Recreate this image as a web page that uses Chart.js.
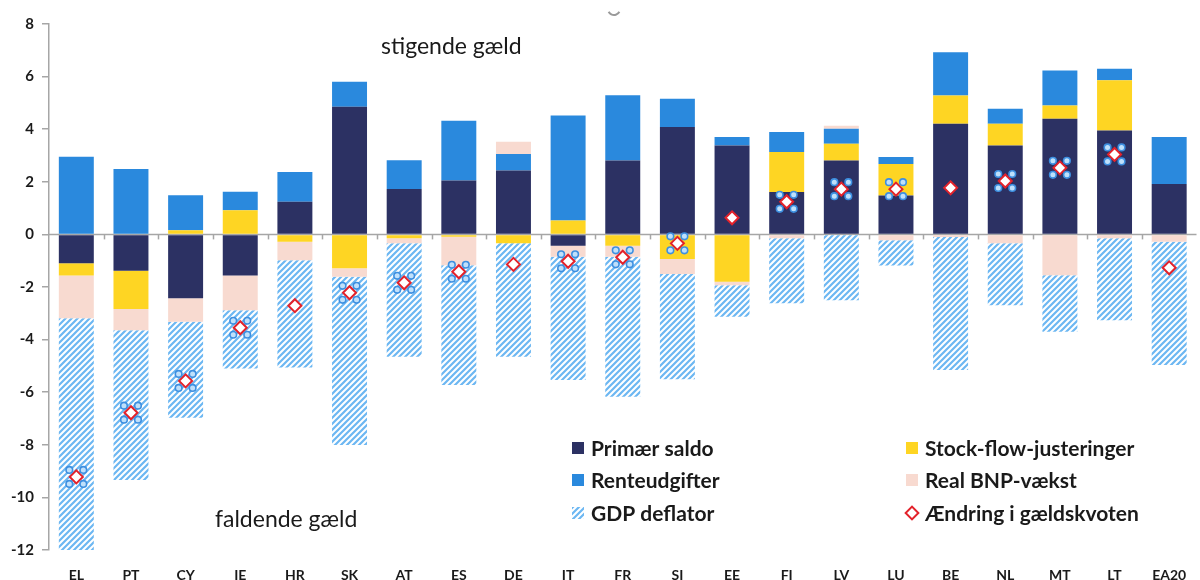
<!DOCTYPE html>
<html>
<head>
<meta charset="utf-8">
<script src="https://cdn.jsdelivr.net/npm/chart.js@4.4.1/dist/chart.umd.min.js"></script>
<style>
  html, body { margin: 0; padding: 0; background: #fff; overflow: hidden; }
  #wrap { position: relative; width: 1205px; height: 592px; }
</style>
</head>
<body>
<div id="wrap"><canvas id="debtChart"></canvas></div>
<script>
// countries, ordered by change in debt ratio contributions
const countries = ['EL', 'PT', 'CY', 'IE', 'HR', 'SK', 'AT', 'ES', 'DE', 'IT', 'FR', 'SI', 'EE', 'FI', 'LV', 'LU', 'BE', 'NL', 'MT', 'LT', 'EA20'];

// contributions, percentage points of GDP
const primaerSaldo   = [-1.10, -1.38, -2.43, -1.56, 1.24, 4.85, 1.73, 2.05, 2.43, -0.43, 2.81, 4.08, 3.38, 1.61, 2.81, 1.48, 4.21, 3.38, 4.40, 3.95, 1.92];
const stockFlow      = [-0.46, -1.46, 0.16, 0.92, -0.28, -1.29, -0.15, -0.09, -0.34, 0.53, -0.43, -0.94, -1.80, 1.52, 0.64, 1.20, 1.07, 0.83, 0.50, 1.91, 0.00];
const renteudgifter  = [2.95, 2.49, 1.33, 0.70, 1.13, 0.95, 1.09, 2.27, 0.63, 3.99, 2.48, 1.08, 0.32, 0.76, 0.57, 0.26, 1.65, 0.57, 1.33, 0.44, 1.78];
const realBnp        = [-1.63, -0.80, -0.89, -1.32, -0.70, -0.32, -0.19, -1.08, 0.46, -0.42, -0.42, -0.57, -0.13, -0.15, 0.11, -0.22, -0.10, -0.34, -1.55, -0.15, -0.28];
const gdpDeflator    = [-8.81, -5.70, -3.65, -2.22, -4.08, -6.40, -4.31, -4.56, -4.31, -4.69, -5.32, -4.00, -1.20, -2.47, -2.50, -0.96, -5.06, -2.35, -2.15, -3.11, -4.69];
const gaeldsAendring = [-9.22, -6.78, -5.57, -3.55, -2.71, -2.22, -1.84, -1.42, -1.14, -1.02, -0.87, -0.34, 0.63, 1.24, 1.72, 1.72, 1.77, 2.03, 2.53, 3.04, -1.27];
// points that show selection handles in the original screenshot
const markerHandles  = [1, 1, 1, 1, 0, 1, 1, 1, 0, 1, 1, 1, 0, 1, 1, 1, 0, 1, 1, 1, 0];

const yTicks = [8, 6, 4, 2, 0, -2, -4, -6, -8, -10, -12];

const NAVY = '#2c3163';
const BLUE = '#2a89dd';
const YELLOW = '#fed523';
const PINK = '#f8dad0';
const HATCH = '#6cb7f2';
const RED = '#e3222b';
const FONT = 'Lato, "Open Sans", sans-serif';

function makeHatch() {
  const c = document.createElement('canvas');
  c.width = 6; c.height = 6;
  const g = c.getContext('2d');
  g.fillStyle = '#fff';
  g.fillRect(0, 0, 6, 6);
  g.strokeStyle = HATCH;
  g.lineWidth = 2.2;
  g.beginPath();
  g.moveTo(-1, 7); g.lineTo(7, -1);
  g.moveTo(-4, 4); g.lineTo(4, -4);
  g.moveTo(2, 10); g.lineTo(10, 2);
  g.stroke();
  return document.getElementById('debtChart').getContext('2d').createPattern(c, 'repeat');
}
const hatch = makeHatch();

const extras = {
  id: 'extras',
  beforeDatasetsDraw(chart) {
    const { ctx, scales: { x, y } } = chart;
    const y0 = y.getPixelForValue(0);
    ctx.save();
    ctx.strokeStyle = '#a6a6a6';
    ctx.lineWidth = 1.5;
    ctx.beginPath();
    ctx.moveTo(x.left, y0);
    ctx.lineTo(x.right, y0);
    ctx.stroke();
    ctx.restore();
  },
  afterDatasetsDraw(chart) {
    const { ctx, scales: { x, y } } = chart;
    const y0 = y.getPixelForValue(0);
    const step = (x.right - x.left) / countries.length;
    ctx.save();
    ctx.strokeStyle = '#a6a6a6';
    ctx.lineWidth = 1.5;
    for (let i = 1; i < countries.length; i++) {
      const px = Math.round(x.left + step * i) + 0.5;
      ctx.beginPath();
      ctx.moveTo(px, y0);
      ctx.lineTo(px, y0 + 5);
      ctx.stroke();
    }

    // selection handles round the diamonds
    const meta = chart.getDatasetMeta(5);
    ctx.lineWidth = 1.6;
    meta.data.forEach((pt, i) => {
      if (!markerHandles[i]) return;
      [[-7, -7], [7, -7], [-7, 7], [7, 7]].forEach(([dx, dy]) => {
        ctx.beginPath();
        ctx.arc(pt.x + dx, pt.y + dy, 3.3, 0, Math.PI * 2);
        ctx.fillStyle = '#bfe0fb';
        ctx.strokeStyle = '#3d8fe0';
        ctx.fill();
        ctx.stroke();
      });
    });
    ctx.restore();
  },
  afterDraw(chart) {
    const ctx = chart.ctx;
    ctx.save();
    // annotations
    ctx.fillStyle = '#1a1a1a';
    ctx.font = '23px ' + FONT;
    ctx.textBaseline = 'middle';
    ctx.textAlign = 'left';
    ctx.fillText('stigende gæld', 381, 47);
    ctx.fillText('faldende gæld', 215, 520);

    // little arc artifact at the top
    ctx.strokeStyle = '#9a9a9a';
    ctx.lineWidth = 2;
    ctx.beginPath();
    ctx.arc(614, 9, 6, 0.15 * Math.PI, 0.85 * Math.PI);
    ctx.stroke();

    // legend, two columns
    const items = [
      { text: 'Primær saldo', col: 0, row: 0, fill: NAVY },
      { text: 'Renteudgifter', col: 0, row: 1, fill: BLUE },
      { text: 'GDP deflator', col: 0, row: 2, fill: hatch },
      { text: 'Stock-flow-justeringer', col: 1, row: 0, fill: YELLOW },
      { text: 'Real BNP-vækst', col: 1, row: 1, fill: PINK },
      { text: 'Ændring i gældskvoten', col: 1, row: 2, diamond: true }
    ];
    const colX = [572, 906];
    const rowY = [448, 480, 513];
    ctx.font = 'bold 21px ' + FONT;
    items.forEach(it => {
      const mx = colX[it.col], my = rowY[it.row];
      if (it.diamond) {
        ctx.save();
        ctx.translate(mx + 6, my);
        ctx.rotate(Math.PI / 4);
        ctx.fillStyle = '#fff';
        ctx.strokeStyle = RED;
        ctx.lineWidth = 2;
        ctx.fillRect(-4.5, -4.5, 9, 9);
        ctx.strokeRect(-4.5, -4.5, 9, 9);
        ctx.restore();
      } else {
        ctx.fillStyle = it.fill;
        ctx.fillRect(mx, my - 6, 12, 12);
      }
      ctx.fillStyle = '#1a1a1a';
      ctx.fillText(it.text, mx + 19, my + 1);
    });
    ctx.restore();
  }
};

const barOpts = { barPercentage: 0.64, categoryPercentage: 1.0, borderWidth: 0, stack: 'debt' };

new Chart(document.getElementById('debtChart'), {
  type: 'bar',
  data: {
    labels: countries,
    datasets: [
      { label: 'Primær saldo', data: primaerSaldo, backgroundColor: NAVY, ...barOpts, order: 2 },
      { label: 'Stock-flow-justeringer', data: stockFlow, backgroundColor: YELLOW, ...barOpts, order: 2 },
      { label: 'Renteudgifter', data: renteudgifter, backgroundColor: BLUE, ...barOpts, order: 2 },
      { label: 'Real BNP-vækst', data: realBnp, backgroundColor: PINK, ...barOpts, order: 2 },
      { label: 'GDP deflator', data: gdpDeflator, backgroundColor: hatch, ...barOpts, order: 2 },
      {
        label: 'Ændring i gældskvoten',
        type: 'line',
        data: gaeldsAendring,
        showLine: false,
        pointStyle: 'rectRot',
        pointRadius: 6.5,
        pointBorderWidth: 2,
        pointBackgroundColor: '#fff',
        pointBorderColor: RED,
        order: 1
      }
    ]
  },
  options: {
    responsive: true,
    maintainAspectRatio: false,
    animation: false,
    layout: { padding: { top: 24, right: 0, left: 0, bottom: 0 } },
    plugins: {
      legend: { display: false },
      tooltip: { enabled: false }
    },
    scales: {
      x: {
        stacked: true,
        grid: { display: false, drawTicks: false },
        border: { display: false },
        ticks: {
          color: '#1a1a1a',
          font: { family: FONT, size: 14, weight: 'bold' },
          padding: 17,
          maxRotation: 0,
          autoSkip: false
        },
        afterFit(scale) { scale.height = 42; }
      },
      y: {
        stacked: true,
        min: -12,
        max: 8,
        afterBuildTicks(scale) { scale.ticks = yTicks.map(v => ({ value: v })); },
        grid: { drawOnChartArea: false, drawTicks: true, tickLength: 7, color: '#a6a6a6', lineWidth: 1.5 },
        border: { color: '#a6a6a6', width: 1.5 },
        ticks: {
          color: '#1a1a1a',
          font: { family: FONT, size: 15, weight: 'bold' },
          padding: 8
        },
        afterFit(scale) { scale.width = 49; }
      }
    }
  },
  plugins: [extras]
});
</script>
</body>
</html>
